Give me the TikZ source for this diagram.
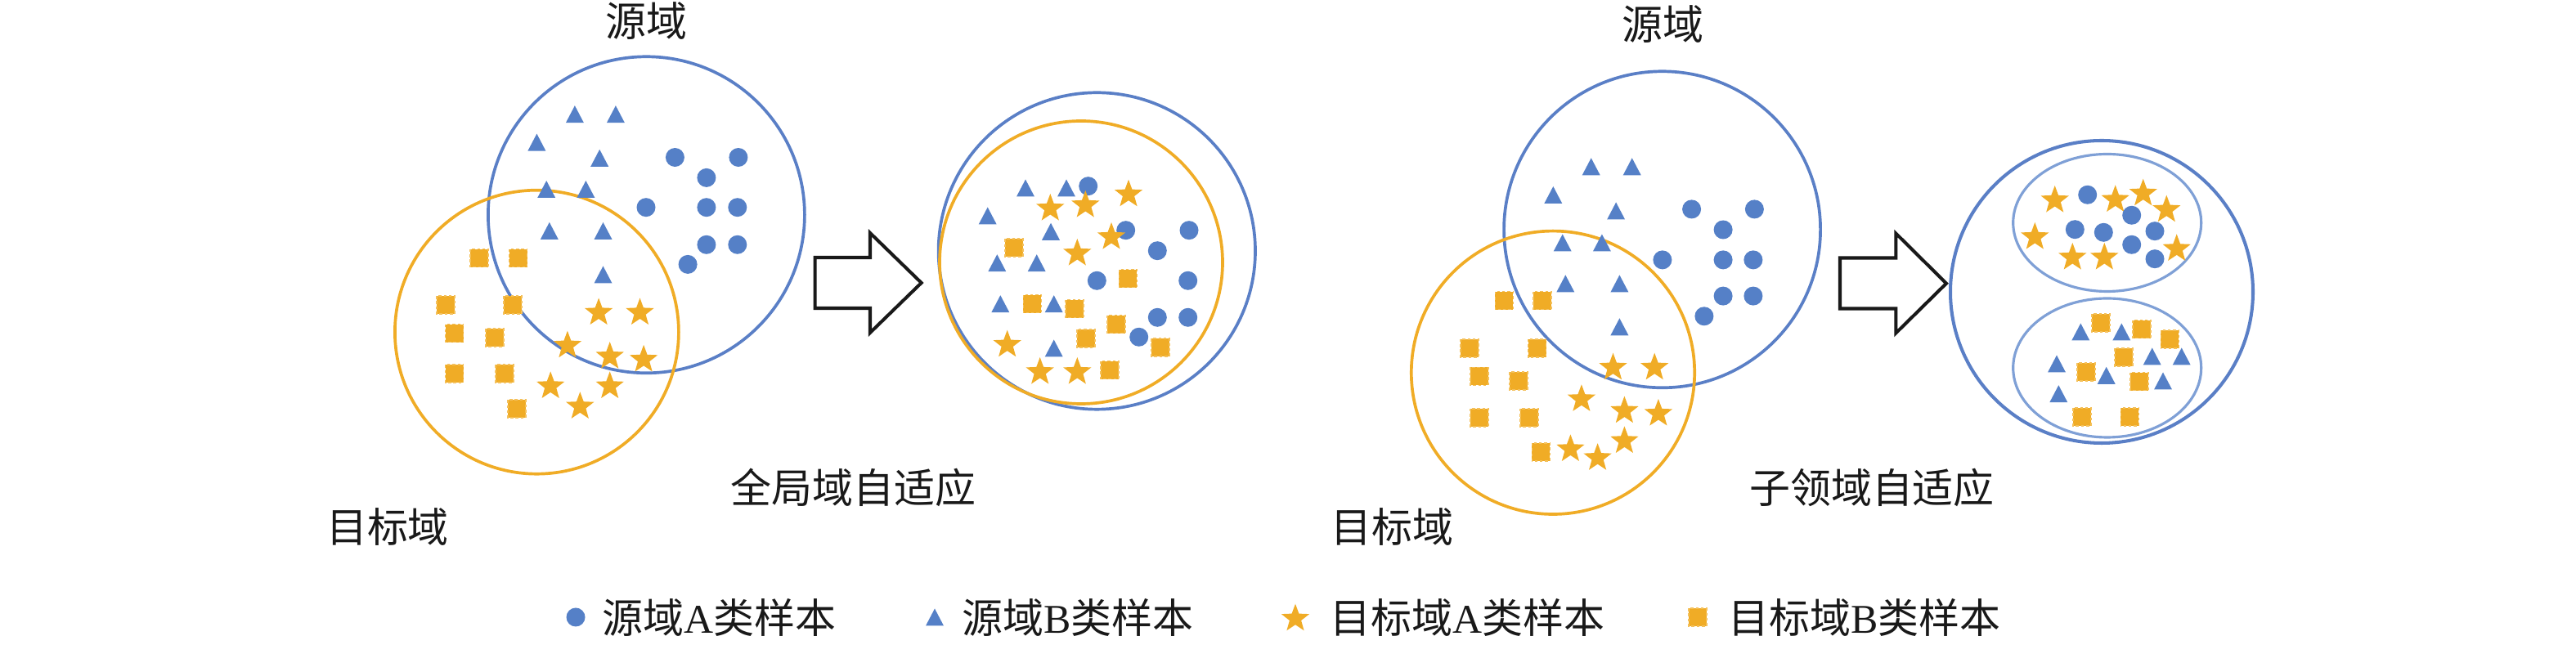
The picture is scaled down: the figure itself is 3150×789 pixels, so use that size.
\documentclass[tikz,border=0pt]{standalone}
\usepackage{fontspec}
\setmainfont{Liberation Serif}
\newfontfamily\cjk{Noto Sans CJK SC}
\definecolor{bluec}{HTML}{5580C7}
\definecolor{bluel}{HTML}{5A7FC6}
\definecolor{bluei}{HTML}{7FA0D6}
\definecolor{orangec}{HTML}{F0AC26}
\tikzset{
  lbl/.style={font={\cjk\fontsize{14.2pt}{17pt}\selectfont}, inner sep=0pt, text=black!90},
  ringblue/.style={draw=bluel, line width=1.05pt},
  ringorange/.style={draw=orangec, line width=1.05pt},
  ringinner/.style={draw=bluei, line width=0.9pt},
  blockarrow/.style={draw=black!90, fill=white, line width=1.15pt},
  sqstyle/.style={fill=orangec, draw=orangec!75!white, line width=0.45pt, dash pattern=on 1pt off 0.8pt},
}
\newcommand\MkStar[1]{\fill[orangec] (#1) +(0,-16.3) -- +(-4.41,-4.37) -- +(-17.12,-3.86) -- +(-7.13,4.02) -- +(-10.58,16.26) -- +(0,9.2) -- +(10.58,16.26) -- +(7.13,4.02) -- +(17.12,-3.86) -- +(4.41,-4.37) -- cycle;}
\newcommand\MkTri[1]{\fill[bluec] (#1) +(-11,10.5) -- +(11,10.5) -- +(0,-10.5) -- cycle;}
\newcommand\MkDot[1]{\fill[bluec] (#1) circle (11.5);}
\newcommand\MkSq[1]{\filldraw[sqstyle] (#1) +(-11,-11) rectangle +(11,11);}
\begin{document}
\begin{tikzpicture}[x=0.01cm, y=-0.01cm]
\useasboundingbox (0,0) rectangle (3150,789);

% ---------- left panel ----------
\draw[ringblue] (790.4,262.8) circle (193.5);
\draw[ringorange] (656.4,406.2) circle (173.5);
\foreach \p in {{702.9,139.7},{752.9,139.7},{656.4,174.1},{733.2,193.3},{668.2,231.5},{716.4,231.5},{671.8,282.4},{737.5,282.4},{737.5,336}} {\MkTri{\p}}
\foreach \p in {{825.4,192.5},{902.9,192.5},{863.9,217.4},{790,253.7},{863.9,253.7},{901.8,253.7},{863.9,299.3},{901.8,299.3},{841.1,323.4}} {\MkDot{\p}}
\foreach \p in {{586.1,315.7},{633.6,315.7},{545,373.1},{627.1,373.1},{555.7,407.6},{605,413.3},{555.7,457.3},{617.1,457.3},{631.8,500.2}} {\MkSq{\p}}
\foreach \p in {{732.1,380.8},{782.5,380.8},{693.9,421},{745.7,434.4},{787.1,438.2},{673.2,470.7},{745.7,470.7},{709.3,495.6}} {\MkStar{\p}}
\node[lbl] (srcL) at (790,26) {源域};
\node[lbl] (tgtL) at (474,645) {目标域};

% left block arrow
\draw[blockarrow] (996.7,315) -- (1064,315) -- (1064,285) -- (1126.7,346) -- (1064,407) -- (1064,377) -- (996.7,377) -- cycle;

% ---------- middle panel ----------
\draw[ringblue] (1341.3,307) circle (193.7);
\draw[ringorange] (1322,321) circle (173);
\foreach \p in {{1254,230},{1304,230},{1207.7,264},{1285,283.3},{1219.3,321.7},{1267.7,321.7},{1223.3,371.7},{1288.7,371.7},{1288.7,426}} {\MkTri{\p}}
\foreach \p in {{1330.7,227.7},{1376.7,281.7},{1454,281.7},{1415.3,306.7},{1341.3,343.3},{1452.7,343.3},{1415.3,388.3},{1452.7,388.3},{1392.7,412.3}} {\MkDot{\p}}
\foreach \p in {{1240,303.3},{1379.3,340.7},{1262.3,371.7},{1314,377.7},{1365,396.7},{1327.7,414},{1419,425},{1356.7,452.7}} {\MkSq{\p}}
\foreach \p in {{1284.3,253.3},{1327.3,249.3},{1380,236},{1359,288.3},{1317.3,308.3},{1231.7,420},{1271.7,453.3},{1317.3,453.3}} {\MkStar{\p}}
\node[lbl] (globalL) at (1043.3,596) {全局域自适应};

% ---------- right panel ----------
\draw[ringblue] (2032.6,280.8) circle (193.5);
\draw[ringorange] (1899,455.8) circle (173.2);
\foreach \p in {{1945.7,203.8},{1995.7,203.8},{1899.3,238.5},{1976.1,258},{1910.7,297},{1958.9,297},{1914.3,346.9},{1980.4,346.9},{1980.4,399.8}} {\MkTri{\p}}
\foreach \p in {{2068.6,255.9},{2145.4,255.9},{2107.1,281},{2032.9,317.9},{2107.1,317.9},{2143.9,317.9},{2107.1,362.1},{2143.9,362.1},{2083.9,386.8}} {\MkDot{\p}}
\foreach \p in {{1839.3,367.7},{1885.7,367.7},{1797.1,425.8},{1879.6,425.8},{1808.9,460.5},{1857.1,466.2},{1808.9,510.8},{1870,510.8},{1884.3,552.9}} {\MkSq{\p}}
\foreach \p in {{1972.5,448},{2023.2,448},{1933.9,486.6},{1986.4,500.9},{2027.9,504.3},{1920.4,547.7},{1986.4,537.7},{1953.6,558.5}} {\MkStar{\p}}
\node[lbl] (srcR) at (2033,30) {源域};
\node[lbl] (tgtR) at (1702.5,645) {目标域};

% right block arrow
\draw[blockarrow] (2250,315.5) -- (2318.3,315.5) -- (2318.3,285.5) -- (2380,346.7) -- (2318.3,407.5) -- (2318.3,377.5) -- (2250,377.5) -- cycle;

% ---------- final panel ----------
\draw[ringblue, line width=1.15pt] (2570,357) circle (185);
\draw[ringinner] (2576.7,272.5) ellipse (115 and 84);
\draw[ringinner] (2576.7,450) ellipse (115 and 85);
\foreach \p in {{2512.7,243.3},{2586.7,242.7},{2620.7,235},{2649.3,255},{2488.3,288.3},{2534.3,313.3},{2573.3,313.3},{2661.7,302.7}} {\MkStar{\p}}
\foreach \p in {{2552.7,238.3},{2606.7,263.3},{2537.3,280.7},{2572.3,284.3},{2635,282.7},{2606.7,299.3},{2635,316.7}} {\MkDot{\p}}
\foreach \p in {{2569,395},{2619,402.7},{2653.3,415},{2596.7,437.3},{2551,455},{2616,466.7},{2546,510},{2604.3,510}} {\MkSq{\p}}
\foreach \p in {{2544.3,406},{2594.3,406},{2515,445},{2631.7,436},{2667.7,436},{2575.7,459.3},{2645,466},{2517.3,481.7}} {\MkTri{\p}}
\node[lbl] (subL) at (2289,597) {子领域自适应};

% ---------- legend ----------
\MkDot{704,755}
\node[lbl, anchor=west] (legA) at (736,755) {源域{\rmfamily A}类样本};
\MkTri{1143,755}
\node[lbl, anchor=west] (legB) at (1176,755) {源域{\rmfamily B}类样本};
\MkStar{1584,755}
\node[lbl, anchor=west] (legC) at (1626,755) {目标域{\rmfamily A}类样本};
\MkSq{2076,755}
\node[lbl, anchor=west] (legD) at (2113,755) {目标域{\rmfamily B}类样本};
\end{tikzpicture}
\end{document}
